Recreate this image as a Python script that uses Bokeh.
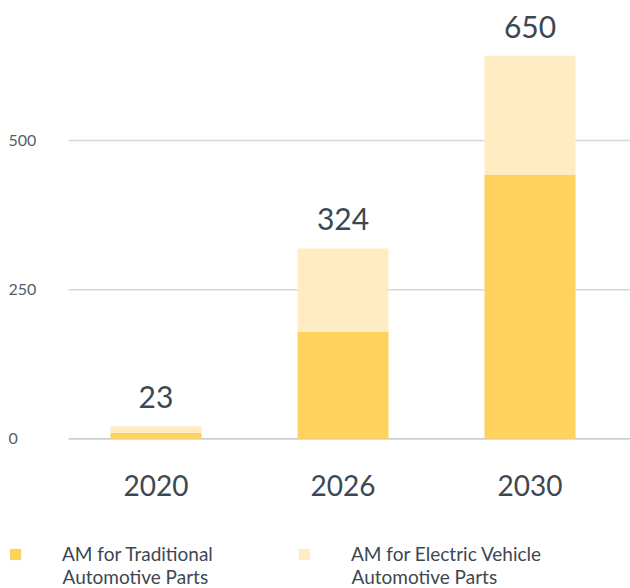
from bokeh.plotting import figure
from bokeh.models import (Range1d, Legend, LegendItem, Label,
                          ColumnDataSource, LabelSet)
from bokeh.core.properties import value
from bokeh.embed import file_html
from bokeh.resources import INLINE

years = ["2020", "2026", "2030"]
traditional = [10, 180, 443]
electric = [11, 139, 199]
totals = [23, 324, 650]
y_ticks = [0, 250, 500]
series_first = ["AM for Traditional", "AM for Electric Vehicle"]
series_second = ["Automotive Parts", "Automotive Parts"]
colors = ["#FFD25D", "#FFECC3"]

FONT = "Lato"
TEXT = "#3d4752"

# canvas geometry (pixels)
W, H = 630, 588
BAND = 187.0          # pixels per category
FIRST_CENTER = 155.5  # pixel x of first category centre
GRID_LEFT = 68.0      # pixel x where gridlines start
ZERO_Y = 438.3        # pixel y of value 0
PX_PER_UNIT = 0.5966  # pixels per value unit
LEG_X = 8             # legend left
LEG_ITEM_W = 289      # legend item pitch
LEG_TEXT_DX = 54      # square left -> text left

idx = list(range(len(years)))
src = ColumnDataSource(dict(
    x=idx, year=years, trad=traditional, ev=electric,
    top=[a + b for a, b in zip(traditional, electric)],
    label=[str(v) for v in totals],
))

x_start = -FIRST_CENTER / BAND
x_end = (W - FIRST_CENTER) / BAND
y_end = ZERO_Y / PX_PER_UNIT
y_start = -(H - ZERO_Y) / PX_PER_UNIT

p = figure(x_range=Range1d(x_start, x_end), y_range=Range1d(y_start, y_end),
           width=W, height=H, min_border=0,
           x_axis_type=None, y_axis_type=None,
           toolbar_location=None, output_backend="svg",
           outline_line_color=None)
p.grid.visible = False

grid_x0 = x_start + GRID_LEFT / BAND
grid_src = ColumnDataSource(dict(
    x0=[grid_x0] * len(y_ticks), x1=[x_end] * len(y_ticks), y=y_ticks,
    color=["#b9bbc3" if t == 0 else "#d4d7db" for t in y_ticks],
    lw=[1.2 if t == 0 else 1.5 for t in y_ticks],
))
p.segment(x0="x0", y0="y", x1="x1", y1="y", line_color="color",
          line_width="lw", source=grid_src)

rs = p.vbar_stack(["trad", "ev"], x="x", width=91 / BAND, color=colors,
                  line_color=None, source=src)

p.add_layout(LabelSet(x="x", y="top", text="label", source=src, y_offset=18,
                      text_align="center", text_baseline="alphabetic",
                      text_font=value(FONT), text_font_size="30px",
                      text_color=TEXT))

# category labels under the baseline
cat_src = ColumnDataSource(dict(x=idx, y=[0] * len(years), text=years))
p.add_layout(LabelSet(x="x", y="y", text="text", source=cat_src,
                      y_offset=-57, text_align="center",
                      text_baseline="alphabetic", text_font=value(FONT),
                      text_font_size="28px", text_color=TEXT))

for v in y_ticks:
    p.add_layout(Label(x=8, x_units="screen", y=v, y_units="data", text=str(v),
                       text_baseline="middle", text_align="left",
                       text_font=FONT, text_font_size="16px",
                       text_color="#555e68"))

legend = Legend(items=[LegendItem(label=series_first[i], renderers=[rs[i]]) for i in range(2)],
                orientation="horizontal", location=(LEG_X, 23),
                glyph_width=14, glyph_height=14, label_standoff=LEG_TEXT_DX - 14,
                label_width=LEG_ITEM_W - LEG_TEXT_DX, spacing=0, padding=0, margin=0,
                border_line_color=None, background_fill_alpha=0,
                label_text_font=FONT, label_text_font_size="19px",
                label_text_color=TEXT)
p.add_layout(legend, "center")

for i, t in enumerate(series_second):
    p.add_layout(Label(x=LEG_X + LEG_TEXT_DX + i * LEG_ITEM_W, x_units="screen",
                       y=12, y_units="screen", text=t,
                       text_baseline="middle", text_align="left",
                       text_font=FONT, text_font_size="19px", text_color=TEXT))

open("out.html", "w").write(file_html(p, INLINE))
